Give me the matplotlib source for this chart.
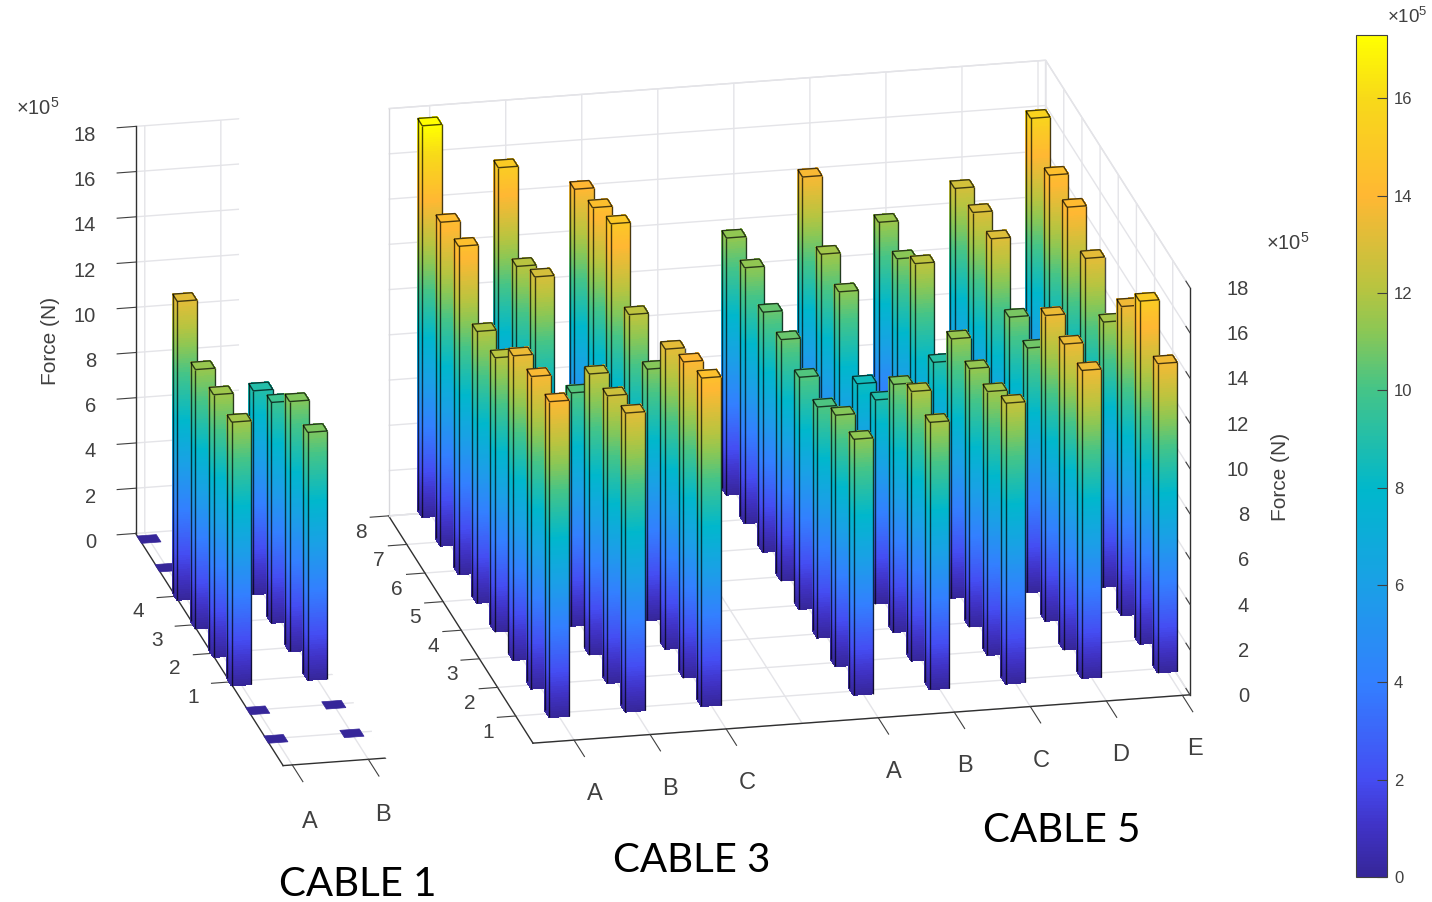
import numpy as np
import matplotlib
matplotlib.use("Agg")
import matplotlib.pyplot as plt
from matplotlib.cm import ScalarMappable
from matplotlib.colors import LinearSegmentedColormap, Normalize
from matplotlib.transforms import ScaledTranslation
from mpl_toolkits.mplot3d.art3d import Poly3DCollection, Line3DCollection

plt.rcParams['font.family'] = 'Liberation Sans'
plt.rcParams['mathtext.fontset'] = 'custom'
plt.rcParams['mathtext.rm'] = 'Liberation Sans'
plt.rcParams['mathtext.default'] = 'regular'
plt.rcParams['grid.color'] = '#e4e4e8'
plt.rcParams['grid.linewidth'] = 1.0

# force in units of 1e5 N, rows are y = 1..8
rows = [1, 2, 3, 4, 5, 6, 7, 8]
cable3_a = [13.95, 13.8, 13.45, 12.1, 12.0, 14.5, 14.3, 17.3]
cable3_b = [13.2, 12.7, 12.4, 10.3, 8.5, 12.9, 12.1, 15.2]
cable3_c = [14.5, 13.95, 13.25, 11.1, 12.25, 15.0, 14.45, 14.0]
cable5_a = [11.3, 11.1, 10.2, 10.25, 10.65, 10.6, 11.3, 11.35]
cable5_b = [11.8, 11.9, 10.95, 9.0, 8.45, 11.25, 11.65, 13.8]
cable5_c = [12.4, 11.65, 11.4, 11.45, 9.15, 12.25, 11.2, 11.55]
cable5_d = [13.6, 13.5, 13.5, 10.8, 10.9, 13.1, 13.0, 12.8]
cable5_e = [13.65, 15.15, 13.65, 11.7, 13.25, 14.25, 14.4, 15.65]
main_cols = [1, 2, 3, 5, 6, 7, 8, 9]
main_ticks = [1, 2, 3, 4, 5, 6, 7, 8, 9]
main_labels = ['A', 'B', 'C', '', 'A', 'B', 'C', 'D', 'E']

# cable 1 has only 4 loaded rows, the rest sit at zero
rows1 = [-1, 0, 1, 2, 3, 4, 5, 6]
cable1_a = [0, 0, 11.65, 11.6, 11.45, 13.2, 0, 0]
cable1_b = [0, 0, 10.95, 11.05, 9.75, 9.0, 0, 0]
z_ticks = [0, 2, 4, 6, 8, 10, 12, 14, 16, 18]
cbar_ticks = [0, 2, 4, 6, 8, 10, 12, 14, 16]
vmax = 17.3

parula = LinearSegmentedColormap.from_list('parula_like', [
    (0.00, (.21, .15, .60)), (.06, (.25, .20, .78)), (.115, (.27, .30, .95)),
    (.23, (.20, .50, 1.0)), (.35, (.10, .63, .90)), (.46, (0, .72, .80)),
    (.58, (.27, .77, .53)), (.65, (.55, .78, .33)), (.70, (.72, .77, .25)),
    (.81, (1.0, .72, .20)), (.925, (.97, .85, .10)), (1.0, (1.0, 1.0, 0))])
norm = Normalize(0, vmax)
TXT = '#404040'
W = 0.128


def add_bar(ax, x, y, h, zo):
    x0, x1, y0, y1 = x - W, x + W, y - W, y + W
    polys, cols = [], []
    levels = np.append(np.arange(0, h, 0.1), h) if h > 0 else []
    for a, b in zip(levels[:-1], levels[1:]):
        c = parula(norm((a + b) / 2))
        polys.append([(x0, y0, a), (x1, y0, a), (x1, y0, b), (x0, y0, b)])
        polys.append([(x0, y0, a), (x0, y1, a), (x0, y1, b), (x0, y0, b)])
        cols += [c, c]
    polys.append([(x0, y0, h), (x1, y0, h), (x1, y1, h), (x0, y1, h)])
    cols.append(parula(norm(h)))
    pc = Poly3DCollection(polys, facecolors=cols, edgecolors=cols, linewidths=0.5, antialiaseds=False)
    pc.set_zorder(zo)
    ax.add_collection3d(pc)
    if h > 0:
        segs = [[(x0, y0, 0), (x0, y0, h)], [(x1, y0, 0), (x1, y0, h)], [(x0, y1, 0), (x0, y1, h)],
                [(x0, y0, h), (x1, y0, h)], [(x1, y0, h), (x1, y1, h)],
                [(x1, y1, h), (x0, y1, h)], [(x0, y1, h), (x0, y0, h)]]
        lc = Line3DCollection(segs, colors=[(0, 0, 0, .7)], linewidths=1.0)
        lc.set_zorder(zo + 0.5)
        ax.add_collection3d(lc)


def draw_bars(ax, cols, rws, table):
    # far bars first, the camera sits on the low x, low y side
    items = [(y, x, table[i][j]) for i, x in enumerate(cols) for j, y in enumerate(rws)]
    items.sort(key=lambda t: (-t[0], -t[1]))
    for n, (y, x, h) in enumerate(items):
        add_bar(ax, x, y, h, 10 + n)


def style(ax, xlim, ylim, aspect):
    ax.view_init(elev=19.9, azim=-102.2)
    ax.set_box_aspect(aspect)
    ax.set_xlim(*xlim, view_margin=0)
    ax.set_ylim(*ylim, view_margin=0)
    ax.set_zlim(0, 18, view_margin=0)
    ax.patch.set_visible(False)
    for a in (ax.xaxis, ax.yaxis, ax.zaxis):
        a.set_pane_color((1, 1, 1, 1))
        a.pane.set_edgecolor('#e0e0e4')
        a.line.set_color('#303030')
        a.line.set_linewidth(1.0)
    ax.set_zticks(z_ticks)
    ax.tick_params(labelsize=14.5, labelcolor=TXT, colors=TXT)
    ax.tick_params(axis='x', labelsize=17)
    ax.tick_params(axis='y', labelsize=15)


def shift_labels(ax, axis, dxs, dys, ha='center'):
    # nudge tick labels by pixels, the reference has them hand placed.
    # Axis3D resets the transform on every draw so block that on the label
    for tick, dx, dy in zip(axis.get_major_ticks(), dxs, dys):
        lab = tick.label1
        lab.set_ha(ha)
        lab.set_transform(ax.transData + ScaledTranslation(dx / 100, -dy / 100, fig.dpi_scale_trans))
        lab.set_transform = lambda t: None


fig = plt.figure(figsize=(14.32, 9.02), dpi=100)

# cable 1
ax1 = fig.add_axes([-151 / 1432, 47 / 902, 804 / 1432, 804 / 902], projection='3d',
                   proj_type='ortho', computed_zorder=False)
draw_bars(ax1, [1, 2], rows1, [cable1_a, cable1_b])
xlim1, ylim1 = (.88, 2.26), (-1.93, 6.2)
wall = Poly3DCollection([[(xlim1[1], ylim1[0], 0), (xlim1[1], ylim1[1], 0),
                          (xlim1[1], ylim1[1], 18), (xlim1[1], ylim1[0], 18)]],
                        facecolors='white', edgecolors='white', linewidths=3)
wall.set_zorder(1)
ax1.add_collection3d(wall)
for r in [-1, 0]:
    ax1.plot(xlim1, [r, r], [0, 0], color='#e4e4e8', lw=1.0, zorder=2)
style(ax1, xlim1, ylim1, (107.4, 698, 433))
for a in (ax1.xaxis, ax1.yaxis, ax1.zaxis):
    a.pane.set_edgecolor('none')
ax1.set_xticks([1, 2], ['A', 'B'])
ax1.set_yticks([1, 2, 3, 4], ['1', '2', '3', '4'])
ax1.zaxis.set_ticks_position('upper')
ax1.zaxis.set_label_position('upper')
shift_labels(ax1, ax1.xaxis, [12, 9], [22, 20])
shift_labels(ax1, ax1.yaxis, [-33] * 4, [-10] * 4)
shift_labels(ax1, ax1.zaxis, [-30] * 10, [8] * 10, ha='right')

# cables 3 and 5 share one axes
ax2 = fig.add_axes([265 / 1432, -24 / 902, 1021 / 1432, 1021 / 902], projection='3d',
                   proj_type='ortho', computed_zorder=False)
draw_bars(ax2, main_cols, rows, [cable3_a, cable3_b, cable3_c, cable5_a, cable5_b,
                                 cable5_c, cable5_d, cable5_e])
ax2.plot([.46, .46], [8, 8], [0, 18], color='#d8d8dc', lw=1.0, zorder=2)
style(ax2, (.46, 9.1), (.05, 8), (672, 683, 433))
ax2.set_xticks(main_ticks, main_labels)
ax2.set_yticks(rows, [str(r) for r in rows])
ax2.zaxis.set_ticks_position('lower')
ax2.zaxis.set_label_position('lower')
ax2.xaxis.get_major_ticks()[3].tick1line.set_color('none')
shift_labels(ax2, ax2.xaxis, [16, 16, 17, 0, 11, 6, 7, 10, 8], [24] * 9)
shift_labels(ax2, ax2.yaxis, [-8] * 8, [-7] * 8)
shift_labels(ax2, ax2.zaxis, [35] * 10, [-13] * 10, ha='right')

for ax, xf, yf, zf in ((ax1, -.9, -2.2, -2.2), (ax2, -.9, -.35, .35)):
    ax.xaxis._axinfo['tick'].update(inward_factor=0, outward_factor=xf)
    ax.yaxis._axinfo['tick'].update(inward_factor=0, outward_factor=yf)
    ax.zaxis._axinfo['tick'].update(inward_factor=0, outward_factor=zf)

# colour bar
cax = fig.add_axes([1356 / 1432, (902 - 877) / 902, 31 / 1432, 842 / 902])
cb = fig.colorbar(ScalarMappable(norm=norm, cmap=parula), cax=cax, ticks=cbar_ticks)
cb.ax.tick_params(direction='in', length=7, width=0.8, labelsize=12, labelcolor=TXT,
                  color='#404040', pad=5)
cb.outline.set_edgecolor('#404040')
cb.outline.set_linewidth(0.8)

for x, y in ((38, 108), (1288, 243), (1407, 17)):
    fig.text(x / 1432, 1 - y / 902, r'$\times10^{5}$', ha='center', va='center',
             color=TXT, fontsize=13.5 if x > 1400 else 14.5)
fig.text(51 / 1432, 1 - 341 / 902, 'Force (N)', rotation=90, ha='center', va='center',
         color=TXT, fontsize=15)
fig.text(1280 / 1432, 1 - 477 / 902, 'Force (N)', rotation=90, ha='center', va='center',
         color=TXT, fontsize=15)
for x, y, s in ((358, 884, 'CABLE 1'), (692, 860, 'CABLE 3'), (1062, 831, 'CABLE 5')):
    fig.text(x / 1432, 1 - y / 902, s, ha='center', va='center', color='black',
             fontsize=29, family='Lato')

fig.savefig('out.png', dpi=100)
